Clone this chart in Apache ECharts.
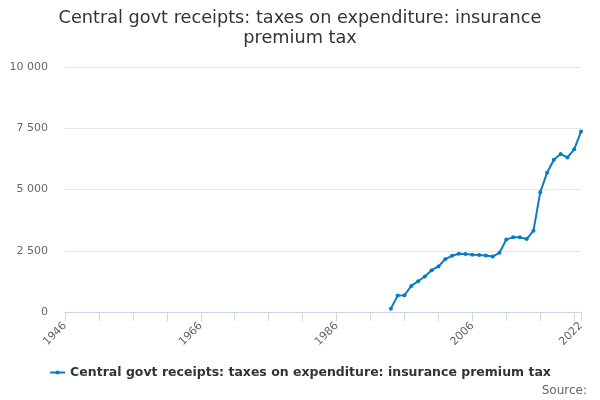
<!DOCTYPE html>
<html>
<head>
<meta charset="utf-8">
<script src="https://cdn.jsdelivr.net/npm/echarts@6/dist/echarts.min.js"></script>
<style>
  html, body { margin: 0; padding: 0; background: #fff; }
  #main { width: 600px; height: 400px; }
</style>
</head>
<body>
<div id="main"></div>
<script>
// axis range (years shown on the category axis)
var firstYear = 1946;
var lastYear = 2022;

// years with data and the receipts (£ million)
var dataYears = [1994, 1995, 1996, 1997, 1998, 1999, 2000, 2001, 2002, 2003,
  2004, 2005, 2006, 2007, 2008, 2009, 2010, 2011, 2012, 2013,
  2014, 2015, 2016, 2017, 2018, 2019, 2020, 2021, 2022];
var receipts = [137, 669, 683, 1066, 1257, 1448, 1708, 1858, 2158, 2295,
  2377, 2363, 2336, 2322, 2309, 2268, 2418, 2964, 3046, 3046,
  2978, 3320, 4891, 5683, 6216, 6448, 6311, 6639, 7363];

var seriesName = 'Central govt receipts: taxes on expenditure: insurance premium tax';

var years = [];
for (var y = firstYear; y <= lastYear; y++) years.push(String(y));
var lastIndex = years.length - 1;

var chart = echarts.init(document.getElementById('main'));
chart.setOption({
  animation: false,
  textStyle: { fontFamily: 'DejaVu Sans' },
  title: [{
    text: 'Central govt receipts: taxes on expenditure: insurance\npremium tax',
    left: 'center',
    top: 3,
    textStyle: { fontSize: 17.7, fontWeight: 'normal', color: '#333', lineHeight: 20 }
  }, {
    text: 'Source:',
    right: 8,
    bottom: -2,
    textStyle: { fontSize: 12, fontWeight: 'normal', color: '#666' }
  }],
  legend: {
    top: 361,
    left: 'center',
    itemWidth: 15,
    itemHeight: 5,
    itemGap: 6,
    textStyle: { fontSize: 12.5, fontWeight: 'bold', color: '#333' },
    data: [seriesName]
  },
  grid: { left: 65, right: 19, top: 67, bottom: 88 },
  xAxis: {
    type: 'category',
    data: years,
    boundaryGap: false,
    axisLine: { lineStyle: { color: '#ccd6eb' } },
    axisTick: {
      length: 9,
      lineStyle: { color: '#ccd6eb' },
      interval: function (i) { return i % 5 === 0 || i === lastIndex; }
    },
    axisLabel: {
      rotate: 45,
      color: '#666',
      fontSize: 11,
      margin: 12,
      interval: function (i) { return i % 20 === 0 || i === lastIndex; }
    }
  },
  yAxis: {
    type: 'value',
    min: 0,
    max: 10000,
    interval: 2500,
    axisLine: { show: false },
    axisTick: { show: false },
    splitLine: { lineStyle: { color: '#e6e6e6' } },
    axisLabel: {
      color: '#666',
      fontSize: 11,
      margin: 17,
      formatter: function (v) { return String(v).replace(/\B(?=(\d{3})+(?!\d))/g, ' '); }
    }
  },
  series: [{
    name: seriesName,
    type: 'line',
    data: dataYears.map(function (yr, i) { return [String(yr), receipts[i]]; }),
    symbol: 'circle',
    symbolSize: 4,
    showSymbol: true,
    lineStyle: { width: 2, color: '#0a7bc1' },
    itemStyle: { color: '#0a7bc1' }
  }]
});
</script>
</body>
</html>
